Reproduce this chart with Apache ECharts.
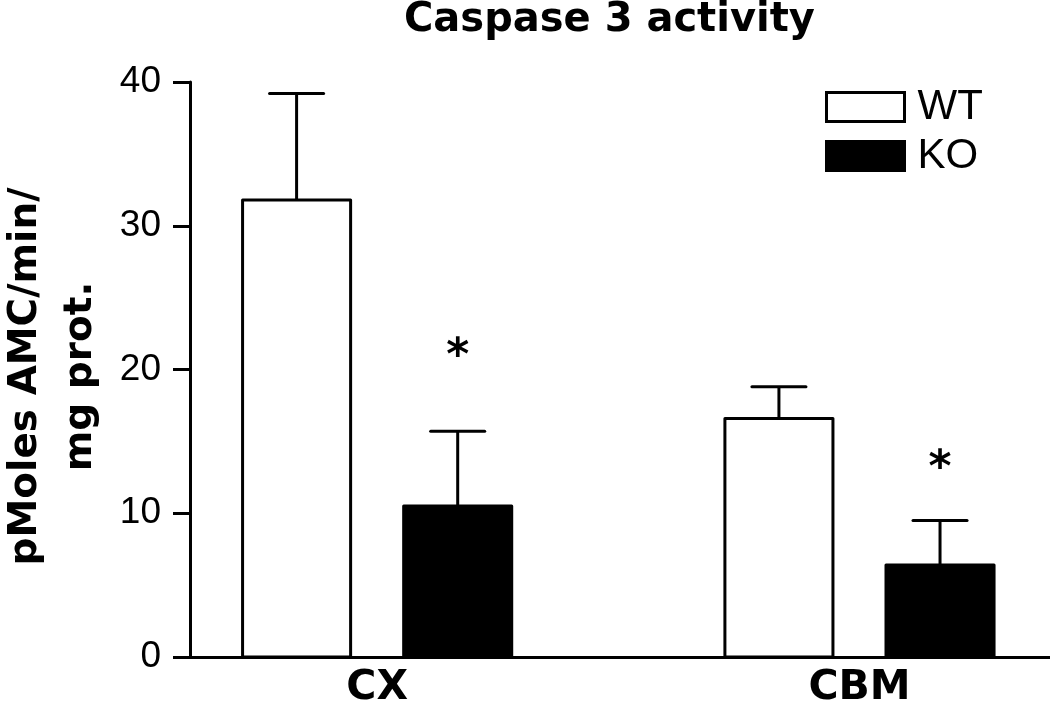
<!DOCTYPE html>
<html>
<head>
<meta charset="utf-8">
<script src="https://cdn.jsdelivr.net/npm/echarts@6/dist/echarts.min.js"></script>
<style>
  html, body { margin: 0; padding: 0; background: #fff; }
  #chart { width: 1050px; height: 708px; }
</style>
</head>
<body>
<div id="chart"></div>
<script>
// ---- data ----
const categories = ['CX', 'CBM'];
const seriesNames = ['WT', 'KO'];
const wtMean = [31.8, 16.6];
const wtSem = [7.4, 2.2];
const koMean = [10.5, 6.4];
const koSem = [5.2, 3.1];
const koStar = [21.6, 13.8];   // y-level of the significance asterisk
const yTicks = [0, 10, 20, 30, 40];

// ---- layout / style constants ----
const GROUP_OFFSET = 0.167;  // offset of each bar from category centre (x units)
const BAR_W = 0.224;         // bar width (x units)

function makeData(mean, sem, star) {
  return categories.map((c, i) => [i, mean[i], mean[i] + sem[i], star ? star[i] : null]);
}

function makeRender(offset, fill) {
  return function (params, api) {
    const i = api.value(0);
    const v = api.value(1);
    const e = api.value(2);
    const s = api.value(3);
    const cx = i + offset;
    const base = api.coord([cx, 0]);
    const top = api.coord([cx, v]);
    const errTop = api.coord([cx, e]);
    const w = api.size([BAR_W, 0])[0];
    const children = [
      {
        type: 'line',
        shape: { x1: top[0], y1: top[1], x2: errTop[0], y2: errTop[1] },
        style: { stroke: '#000', lineWidth: 3 }
      },
      {
        type: 'line',
        shape: { x1: errTop[0] - w / 4, y1: errTop[1], x2: errTop[0] + w / 4, y2: errTop[1] },
        style: { stroke: '#000', lineWidth: 3, lineCap: 'round' }
      },
      {
        type: 'rect',
        shape: { x: base[0] - w / 2, y: top[1], width: w, height: base[1] - top[1] },
        style: { fill: fill, stroke: '#000', lineWidth: 3, lineJoin: 'round' }
      }
    ];
    if (s !== null && !isNaN(s)) {
      const sp = api.coord([cx, s]);
      children.push({
        type: 'text',
        x: sp[0], y: sp[1] - 11,
        style: {
          text: '*', fill: '#000',
          font: 'bold 44px "DejaVu Sans"',
          align: 'center', verticalAlign: 'top'
        }
      });
    }
    return { type: 'group', children: children };
  };
}

const chart = echarts.init(document.getElementById('chart'), null, { renderer: 'canvas' });
chart.setOption({
  backgroundColor: '#fff',
  animation: false,
  title: {
    text: 'Caspase 3 activity',
    left: 399, top: -4,
    textStyle: { fontFamily: 'DejaVu Sans', fontWeight: 'bold', fontSize: 40, color: '#000' }
  },
  legend: {
    orient: 'vertical',
    left: 825, top: 86,
    padding: 0,
    itemWidth: 78, itemHeight: 29, itemGap: 7,
    icon: 'rect',
    textStyle: { fontFamily: 'Liberation Sans', fontSize: 42, lineHeight: 30, color: '#000', padding: [0, 0, 0, 8] },
    data: [
      { name: seriesNames[0], itemStyle: { color: '#fff', borderColor: '#000', borderWidth: 3 } },
      { name: seriesNames[1], itemStyle: { color: '#000', borderColor: '#000', borderWidth: 3 } }
    ]
  },
  grid: { left: 190, right: 0, top: 82, bottom: 51, containLabel: false, outerBoundsMode: 'none' },
  xAxis: {
    type: 'value',
    min: -0.388, max: 1.395,
    splitLine: { show: false },
    axisTick: { show: false },
    axisLine: { show: true, onZero: false, lineStyle: { color: '#000', width: 3 } },
    axisLabel: {
      customValues: categories.map((c, i) => i),
      formatter: (v) => categories[Math.round(v)] || '',
      margin: 11,
      fontFamily: 'DejaVu Sans', fontWeight: 'bold', fontSize: 41, color: '#000'
    }
  },
  yAxis: {
    type: 'value',
    min: yTicks[0], max: yTicks[yTicks.length - 1], interval: 10,
    splitLine: { show: false },
    axisLine: { show: true, onZero: false, lineStyle: { color: '#000', width: 3 } },
    axisTick: { show: true, inside: false, length: 17, lineStyle: { color: '#000', width: 3 } },
    axisLabel: { margin: 29, fontFamily: 'Liberation Sans', fontSize: 37, color: '#000' },
    name: 'pMoles AMC/min/\nmg prot.',
    nameLocation: 'middle',
    nameRotate: 90,
    nameGap: 82,
    nameTextStyle: {
      fontFamily: 'DejaVu Sans', fontWeight: 'bold', fontSize: 39, color: '#000',
      lineHeight: 55, padding: [0, 14, 0, 0]
    }
  },
  series: [
    {
      name: seriesNames[0], type: 'custom',
      itemStyle: { color: '#fff', borderColor: '#000' },
      renderItem: makeRender(-GROUP_OFFSET, '#fff'),
      encode: { x: 0, y: [1, 2] },
      data: makeData(wtMean, wtSem, null),
      z: 3
    },
    {
      name: seriesNames[1], type: 'custom',
      itemStyle: { color: '#000', borderColor: '#000' },
      renderItem: makeRender(GROUP_OFFSET, '#000'),
      encode: { x: 0, y: [1, 2, 3] },
      data: makeData(koMean, koSem, koStar),
      z: 3
    }
  ]
});
</script>
</body>
</html>
